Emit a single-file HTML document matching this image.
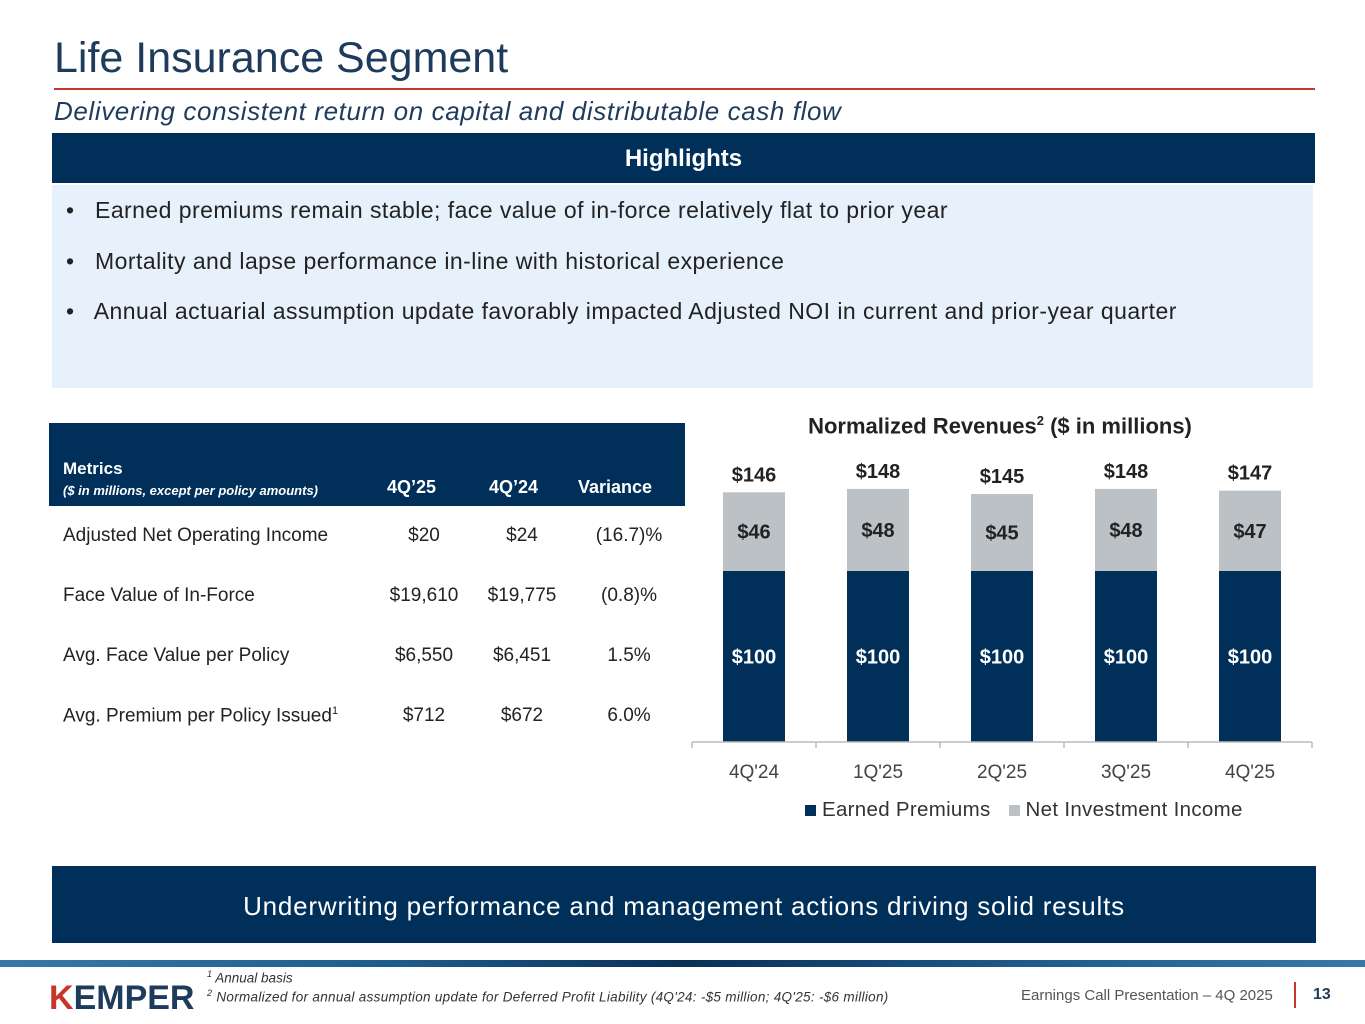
<!DOCTYPE html>
<html><head><meta charset="utf-8"><style>
body{margin:0;width:1365px;height:1024px;position:relative;background:#fff;font-family:"Liberation Sans",sans-serif;overflow:hidden}
.a{position:absolute}
.t td{font-size:19px;color:#222}
</style></head><body>
<div class="a" style="left:54px;top:34px;font-size:43px;color:#1f3b5c">Life Insurance Segment</div>
<div class="a" style="left:54px;top:88px;width:1261px;height:2px;background:#c8352b"></div>
<div class="a" style="left:54px;top:96px;font-size:26px;letter-spacing:0.6px;font-style:italic;color:#1f3b5c">Delivering consistent return on capital and distributable cash flow</div>
<div class="a" style="left:52px;top:133px;width:1263px;height:50px;background:#00305a;color:#fff;font-size:24px;font-weight:bold;text-align:center;line-height:52px">Highlights</div>
<div class="a" style="left:52px;top:185px;width:1261px;height:203px;background:#e6f1fc"></div>
<div class="a" style="left:66px;top:197px;font-size:23px;letter-spacing:0.45px;color:#222">•&nbsp;&nbsp; Earned premiums remain stable; face value of in-force relatively flat to prior year</div>
<div class="a" style="left:66px;top:248px;font-size:23px;letter-spacing:0.45px;color:#222">•&nbsp;&nbsp; Mortality and lapse performance in-line with historical experience</div>
<div class="a" style="left:66px;top:298px;font-size:23px;letter-spacing:0.45px;color:#222">•&nbsp;&nbsp; Annual actuarial assumption update favorably impacted Adjusted NOI in current and prior-year quarter</div>

<div class="a" style="left:49px;top:423px;width:636px;height:83px;background:#00305a;color:#fff">
<div class="a" style="left:14px;top:36px;font-size:17px;font-weight:bold">Metrics</div>
<div class="a" style="left:14px;top:60px;font-size:13px;font-weight:bold;font-style:italic">($ in millions, except per policy amounts)</div>
<div class="a" style="left:338px;top:54px;font-size:18px;font-weight:bold">4Q’25</div>
<div class="a" style="left:440px;top:54px;font-size:18px;font-weight:bold">4Q’24</div>
<div class="a" style="left:529px;top:54px;font-size:18px;font-weight:bold">Variance</div>
</div>
<div class="a t" style="left:49px;top:506px;width:636px">
<table style="border-collapse:collapse;width:636px">
<tr style="height:60px"><td style="padding-left:14px">Adjusted Net Operating Income</td><td style="text-align:center;width:92px">$20</td><td style="text-align:center;width:100px">$24</td><td style="text-align:center;width:110px">(16.7)%</td></tr>
<tr style="height:60px"><td style="padding-left:14px">Face Value of In-Force</td><td style="text-align:center">$19,610</td><td style="text-align:center">$19,775</td><td style="text-align:center">(0.8)%</td></tr>
<tr style="height:60px"><td style="padding-left:14px">Avg. Face Value per Policy</td><td style="text-align:center">$6,550</td><td style="text-align:center">$6,451</td><td style="text-align:center">1.5%</td></tr>
<tr style="height:60px"><td style="padding-left:14px">Avg. Premium per Policy Issued<sup style="font-size:11px">1</sup></td><td style="text-align:center">$712</td><td style="text-align:center">$672</td><td style="text-align:center">6.0%</td></tr>
</table></div>

<div class="a" style="left:690px;top:413px;width:620px;text-align:center;font-size:22px;font-weight:bold;color:#222">Normalized Revenues<sup style="font-size:13px">2</sup> ($ in millions)</div>
<svg class="a" style="left:0;top:0" width="1365" height="1024" id="chart"></svg>
<div class="a" style="left:805px;top:798px;font-size:20.5px;letter-spacing:0.3px;color:#333">
<span><span style="display:inline-block;width:11px;height:11px;background:#00305a"></span> Earned Premiums</span>&nbsp;&nbsp;&nbsp;<span><span style="display:inline-block;width:11px;height:11px;background:#bcc1c6"></span> Net Investment Income</span></div>

<div class="a" style="left:52px;top:866px;width:1264px;height:77px;background:#00305a;color:#fff;font-size:26px;letter-spacing:0.8px;text-align:center;line-height:80px">Underwriting performance and management actions driving solid results</div>
<div class="a" style="left:0;top:960px;width:1365px;height:7px;background:linear-gradient(90deg,#3a78a8,#1d5a8a 30%,#0a2f55 50%,#1d5a8a 75%,#3a78a8)"></div>
<div class="a" style="left:49px;top:979px;font-size:34px;font-weight:bold;color:#1f3b5c;letter-spacing:0px"><span style="color:#c8352b">K</span>EMPER</div>
<div class="a" style="left:207px;top:969px;font-size:13.5px;font-style:italic;color:#333"><sup style="font-size:9px">1</sup> Annual basis</div>
<div class="a" style="left:207px;top:988px;font-size:13.5px;letter-spacing:0.3px;font-style:italic;color:#333"><sup style="font-size:9px">2</sup> Normalized for annual assumption update for Deferred Profit Liability (4Q'24: -$5 million; 4Q'25: -$6 million)</div>
<div class="a" style="left:1021px;top:987px;font-size:15px;color:#555">Earnings Call Presentation – 4Q 2025</div>
<div class="a" style="left:1294px;top:982px;width:2px;height:26px;background:#c8352b"></div>
<div class="a" style="left:1313px;top:986px;font-size:16px;font-weight:bold;color:#1f3b5c">13</div>

<script>
const categories=["4Q'24","1Q'25","2Q'25","3Q'25","4Q'25"];
const earnedPremiums=[100,100,100,100,100];
const netInvestmentIncome=[46,48,45,48,47];
const totals=[146,148,145,148,147];
const svg=document.getElementById('chart');
const NS='http://www.w3.org/2000/svg';
const x0=692,x1=1312,base=742,scale=1.71,bw=62;
const step=(x1-x0)/categories.length;
const xc=i=>x0+step*(i+0.5);
const y=v=>base-v*scale;
function el(t,a,txt){const e=document.createElementNS(NS,t);for(const k in a)e.setAttribute(k,a[k]);if(txt!==undefined)e.textContent=txt;svg.appendChild(e);return e;}
categories.forEach((c,i)=>{
 const cx=xc(i);
 const b1=el('rect',{x:cx-bw/2,y:y(earnedPremiums[i]),width:bw,height:earnedPremiums[i]*scale,fill:'#00305a'});
 
 
 const top=earnedPremiums[i]+netInvestmentIncome[i];
 const b2=el('rect',{x:cx-bw/2,y:y(top),width:bw,height:netInvestmentIncome[i]*scale,fill:'#bcc1c6'});
 
 
 const l1=el('text',{x:cx,y:y(earnedPremiums[i]/2)+7,'text-anchor':'middle','font-size':20,'font-weight':'bold',fill:'#fff','font-family':'Liberation Sans'},'$'+earnedPremiums[i]);
 
 
 const l2=el('text',{x:cx,y:y(earnedPremiums[i]+netInvestmentIncome[i]/2)+7,'text-anchor':'middle','font-size':20,'font-weight':'bold',fill:'#222','font-family':'Liberation Sans'},'$'+netInvestmentIncome[i]);
 
 
 const l3=el('text',{x:cx,y:y(totals[i])-11,'text-anchor':'middle','font-size':20,'font-weight':'bold',fill:'#222','font-family':'Liberation Sans'},'$'+totals[i]);
 
 
 const xl=el('text',{x:cx,y:778,'text-anchor':'middle','font-size':19,fill:'#444','font-family':'Liberation Sans'},c);
 
 
});
const ax=el('line',{x1:x0,y1:base,x2:x1,y2:base,stroke:'#bbb','stroke-width':1.5});


for(let i=0;i<=categories.length;i++){
 const tk=el('line',{x1:x0+step*i,y1:base,x2:x0+step*i,y2:base+6,stroke:'#bbb','stroke-width':1.5});
 
 
}
</script>
</body></html>
